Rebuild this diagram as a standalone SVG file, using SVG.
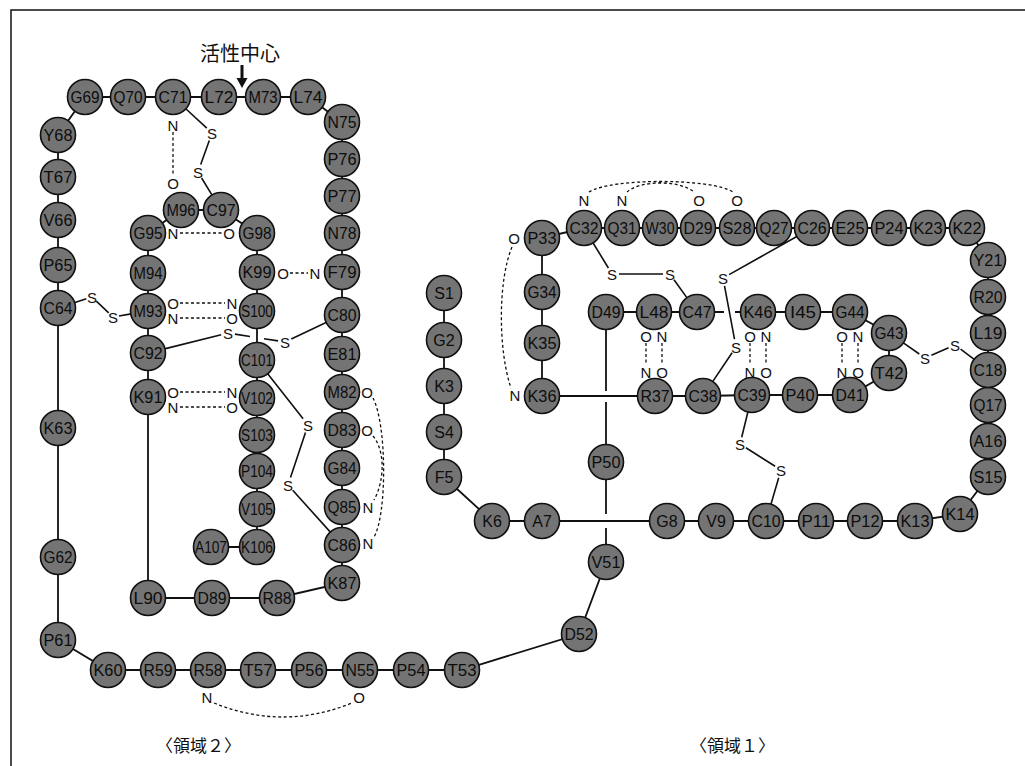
<svg xmlns="http://www.w3.org/2000/svg" width="1025" height="766" viewBox="0 0 1025 766">
<style>
.res circle{fill:#747474;stroke:#111;stroke-width:1.6}
.res text{font-family:"Liberation Sans",Arial,sans-serif;font-size:16px;text-anchor:middle;dominant-baseline:central;fill:#0d0d0d}
.bb{stroke:#111;stroke-width:1.8;fill:none}
.ss{stroke:#111;stroke-width:1.6;fill:none}
.hb{stroke:#111;stroke-width:1.3;stroke-dasharray:3 2.5;fill:none}
.lb{font-family:"Liberation Sans",Arial,sans-serif;font-size:15px;text-anchor:middle;dominant-baseline:central;fill:#111}
.cjk{font-family:"Noto Sans CJK JP","Liberation Sans",sans-serif;fill:#111}
</style>
<rect width="1025" height="766" fill="#fff"/>
<path d="M11,766 V10 H1025" stroke="#111" stroke-width="1.5" fill="none"/>
<g id="connectors">
<polyline class="bb" points="444,293 444,340 444,386 444,432 444,477 492,521 542,521 667,521 716,521 766,521 816,521 865,521 915,521 960,514 988,477 988,441 988,405 988,370 988,333 988,297 988,260 967,228 928,228 889,228 850,228 812,228 774,228 737,228 698,228 660,228 622,228 584,228 542,238 542,292 542,343 542,396 655,396 703,396 752,395 800,395 850,395 889,373 889,333 850,312 803,312 758,312 735,312"/>
<polyline class="bb" points="724,312 697,312 654,312 606,312 606,391"/>
<polyline class="bb" points="606,402 606,462 606,514"/>
<polyline class="bb" points="606,528 606,562 579,634 462,670 411,670 360,670 309,670 258,670 208,670 158,670 108,670 58,640 58,557 58,428 58,308 58,265 58,220 58,177 58,135 85,97 128,97 173,97 219,97 263,97 308,97 342,122 342,159 342,196 342,233 342,272 342,315 342,354 342,392 342,430 342,468 342,507 342,545 342,583 277,598 212,598 148,598 148,397 148,353 148,311 148,273 148,233 181,210 221,210 257,233 257,272 257,311 257,360 257,398 257,435 257,471 257,509 257,547 211,547"/>
<path class="ss" d="M185.5,108.5 L206.8,128.2 M209.3,140.5 L200.7,164.5 M201.6,178 L212.2,195.4"/>
<path class="ss" d="M74.2,302.8 L86.3,298.8 M96.3,301.1 L108.7,312.9 M118.9,316 L131.2,313.9"/>
<path class="ss" d="M164.5,348.9 L221.2,334.7 M234.9,334.1 L250,336.5 M264,338.7 L278.1,340.9 M291.3,339 L326.6,322.3"/>
<path class="ss" d="M267.5,373.4 L303.1,418.7 M305.5,432.6 L290.5,477.4 M292.7,490.2 L330.6,532.4"/>
<path class="ss" d="M592.8,242.5 L608.4,268 M619,274 L663,274 M674,279.7 L687.2,298.1"/>
<path class="ss" d="M797.2,236.3 L729.1,274.6 M724.5,285.9 L734.5,339.1 M732.1,352.8 L712.5,381.9"/>
<path class="ss" d="M748,411.5 L741.7,437.2 M745.9,447.8 L775.1,466.2 M778.7,477.7 L770.8,504.7"/>
<path class="ss" d="M903,342.7 L919.3,354 M931.4,355.2 L948.6,347.8 M960.6,349.2 L974.5,359.7"/>
<path class="hb" d="M173,132 V176 M180,233 H222 M290,273 H308 M180,303 H225 M180,318 H225 M180,392 H225 M180,407 H225"/>
<path class="hb" d="M373,398 C387,425 387,515 374,537 M373,436 C385,450 385,480 374,500"/>
<path class="hb" d="M214,703 Q283,731 352,703"/>
<path class="hb" d="M589,192 C610,178 712,178 733,192 M627,192 C640,180 680,180 694,192"/>
<path class="hb" d="M512,247 C498,280 498,350 511,388"/>
<path class="hb" d="M646,343 V365 M662,343 V365 M750,343 V365 M766,343 V365 M842,343 V365 M858,343 V365"/>
<line x1="242" y1="65" x2="242" y2="79" stroke="#111" stroke-width="3"/>
<polygon points="236.5,78 247.5,78 242,88" fill="#111"/>
</g>
<g id="bond-labels">
<text class="lb" x="212" y="133">S</text><text class="lb" x="198" y="172">S</text>
<text class="lb" x="173" y="125">N</text><text class="lb" x="173" y="183">O</text>
<text class="lb" x="173" y="233">N</text><text class="lb" x="229" y="233">O</text>
<text class="lb" x="283" y="273">O</text><text class="lb" x="315" y="273">N</text>
<text class="lb" x="92" y="297">S</text><text class="lb" x="113" y="317">S</text>
<text class="lb" x="173" y="303">O</text><text class="lb" x="232" y="303">N</text>
<text class="lb" x="173" y="318">N</text><text class="lb" x="232" y="318">O</text>
<text class="lb" x="228" y="333">S</text><text class="lb" x="285" y="342">S</text>
<text class="lb" x="173" y="392">O</text><text class="lb" x="232" y="392">N</text>
<text class="lb" x="173" y="407">N</text><text class="lb" x="232" y="407">O</text>
<text class="lb" x="308" y="425">S</text><text class="lb" x="288" y="485">S</text>
<text class="lb" x="367" y="392">O</text><text class="lb" x="367" y="430">O</text>
<text class="lb" x="368" y="507">N</text><text class="lb" x="368" y="543">N</text>
<text class="lb" x="207" y="697">N</text><text class="lb" x="359" y="697">O</text>
<text class="lb" x="584" y="200">N</text><text class="lb" x="622" y="200">N</text>
<text class="lb" x="699" y="200">O</text><text class="lb" x="737" y="200">O</text>
<text class="lb" x="514" y="238">O</text><text class="lb" x="515" y="395">N</text>
<text class="lb" x="612" y="274">S</text><text class="lb" x="670" y="274">S</text>
<text class="lb" x="723" y="278">S</text><text class="lb" x="736" y="347">S</text>
<text class="lb" x="646" y="336">O</text><text class="lb" x="662" y="336">N</text>
<text class="lb" x="646" y="372">N</text><text class="lb" x="662" y="372">O</text>
<text class="lb" x="750" y="336">O</text><text class="lb" x="766" y="336">N</text>
<text class="lb" x="750" y="372">N</text><text class="lb" x="766" y="372">O</text>
<text class="lb" x="842" y="336">O</text><text class="lb" x="858" y="336">N</text>
<text class="lb" x="842" y="372">N</text><text class="lb" x="858" y="372">O</text>
<text class="lb" x="740" y="444">S</text><text class="lb" x="781" y="470">S</text>
<text class="lb" x="925" y="358">S</text><text class="lb" x="955" y="345">S</text>
</g>
<g id="titles">
<text class="cjk" x="240" y="61" font-size="20" text-anchor="middle">活性中心</text>
<text class="cjk" x="156" y="752" font-size="17">〈領域２〉</text>
<text class="cjk" x="690" y="752" font-size="17">〈領域１〉</text>
</g>
<g id="residues">
<g id="S1" class="res"><circle cx="444" cy="293" r="17.5"/><text x="444" y="293">S1</text></g>
<g id="G2" class="res"><circle cx="444" cy="340" r="17.5"/><text x="444" y="340">G2</text></g>
<g id="K3" class="res"><circle cx="444" cy="386" r="17.5"/><text x="444" y="386">K3</text></g>
<g id="S4" class="res"><circle cx="444" cy="432" r="17.5"/><text x="444" y="432">S4</text></g>
<g id="F5" class="res"><circle cx="444" cy="477" r="17.5"/><text x="444" y="477">F5</text></g>
<g id="K6" class="res"><circle cx="492" cy="521" r="17.5"/><text x="492" y="521">K6</text></g>
<g id="A7" class="res"><circle cx="542" cy="521" r="17.5"/><text x="542" y="521">A7</text></g>
<g id="G8" class="res"><circle cx="667" cy="521" r="17.5"/><text x="667" y="521">G8</text></g>
<g id="V9" class="res"><circle cx="716" cy="521" r="17.5"/><text x="716" y="521">V9</text></g>
<g id="C10" class="res"><circle cx="766" cy="521" r="17.5"/><text x="766" y="521" textLength="29" lengthAdjust="spacingAndGlyphs">C10</text></g>
<g id="P11" class="res"><circle cx="816" cy="521" r="17.5"/><text x="816" y="521" textLength="29" lengthAdjust="spacingAndGlyphs">P11</text></g>
<g id="P12" class="res"><circle cx="865" cy="521" r="17.5"/><text x="865" y="521" textLength="29" lengthAdjust="spacingAndGlyphs">P12</text></g>
<g id="K13" class="res"><circle cx="915" cy="521" r="17.5"/><text x="915" y="521" textLength="29" lengthAdjust="spacingAndGlyphs">K13</text></g>
<g id="K14" class="res"><circle cx="960" cy="514" r="17.5"/><text x="960" y="514" textLength="29" lengthAdjust="spacingAndGlyphs">K14</text></g>
<g id="S15" class="res"><circle cx="988" cy="477" r="17.5"/><text x="988" y="477" textLength="29" lengthAdjust="spacingAndGlyphs">S15</text></g>
<g id="A16" class="res"><circle cx="988" cy="441" r="17.5"/><text x="988" y="441" textLength="29" lengthAdjust="spacingAndGlyphs">A16</text></g>
<g id="Q17" class="res"><circle cx="988" cy="405" r="17.5"/><text x="988" y="405" textLength="29" lengthAdjust="spacingAndGlyphs">Q17</text></g>
<g id="C18" class="res"><circle cx="988" cy="370" r="17.5"/><text x="988" y="370" textLength="29" lengthAdjust="spacingAndGlyphs">C18</text></g>
<g id="L19" class="res"><circle cx="988" cy="333" r="17.5"/><text x="988" y="333" textLength="29" lengthAdjust="spacingAndGlyphs">L19</text></g>
<g id="R20" class="res"><circle cx="988" cy="297" r="17.5"/><text x="988" y="297" textLength="29" lengthAdjust="spacingAndGlyphs">R20</text></g>
<g id="Y21" class="res"><circle cx="988" cy="260" r="17.5"/><text x="988" y="260" textLength="29" lengthAdjust="spacingAndGlyphs">Y21</text></g>
<g id="K22" class="res"><circle cx="967" cy="228" r="17.5"/><text x="967" y="228" textLength="29" lengthAdjust="spacingAndGlyphs">K22</text></g>
<g id="K23" class="res"><circle cx="928" cy="228" r="17.5"/><text x="928" y="228" textLength="29" lengthAdjust="spacingAndGlyphs">K23</text></g>
<g id="P24" class="res"><circle cx="889" cy="228" r="17.5"/><text x="889" y="228" textLength="29" lengthAdjust="spacingAndGlyphs">P24</text></g>
<g id="E25" class="res"><circle cx="850" cy="228" r="17.5"/><text x="850" y="228" textLength="29" lengthAdjust="spacingAndGlyphs">E25</text></g>
<g id="C26" class="res"><circle cx="812" cy="228" r="17.5"/><text x="812" y="228" textLength="29" lengthAdjust="spacingAndGlyphs">C26</text></g>
<g id="Q27" class="res"><circle cx="774" cy="228" r="17.5"/><text x="774" y="228" textLength="29" lengthAdjust="spacingAndGlyphs">Q27</text></g>
<g id="S28" class="res"><circle cx="737" cy="228" r="17.5"/><text x="737" y="228" textLength="29" lengthAdjust="spacingAndGlyphs">S28</text></g>
<g id="D29" class="res"><circle cx="698" cy="228" r="17.5"/><text x="698" y="228" textLength="29" lengthAdjust="spacingAndGlyphs">D29</text></g>
<g id="W30" class="res"><circle cx="660" cy="228" r="17.5"/><text x="660" y="228" textLength="29" lengthAdjust="spacingAndGlyphs">W30</text></g>
<g id="Q31" class="res"><circle cx="622" cy="228" r="17.5"/><text x="622" y="228" textLength="29" lengthAdjust="spacingAndGlyphs">Q31</text></g>
<g id="C32" class="res"><circle cx="584" cy="228" r="17.5"/><text x="584" y="228" textLength="29" lengthAdjust="spacingAndGlyphs">C32</text></g>
<g id="P33" class="res"><circle cx="542" cy="238" r="17.5"/><text x="542" y="238" textLength="29" lengthAdjust="spacingAndGlyphs">P33</text></g>
<g id="G34" class="res"><circle cx="542" cy="292" r="17.5"/><text x="542" y="292" textLength="29" lengthAdjust="spacingAndGlyphs">G34</text></g>
<g id="K35" class="res"><circle cx="542" cy="343" r="17.5"/><text x="542" y="343" textLength="29" lengthAdjust="spacingAndGlyphs">K35</text></g>
<g id="K36" class="res"><circle cx="542" cy="396" r="17.5"/><text x="542" y="396" textLength="29" lengthAdjust="spacingAndGlyphs">K36</text></g>
<g id="R37" class="res"><circle cx="655" cy="396" r="17.5"/><text x="655" y="396" textLength="29" lengthAdjust="spacingAndGlyphs">R37</text></g>
<g id="C38" class="res"><circle cx="703" cy="396" r="17.5"/><text x="703" y="396" textLength="29" lengthAdjust="spacingAndGlyphs">C38</text></g>
<g id="C39" class="res"><circle cx="752" cy="395" r="17.5"/><text x="752" y="395" textLength="29" lengthAdjust="spacingAndGlyphs">C39</text></g>
<g id="P40" class="res"><circle cx="800" cy="395" r="17.5"/><text x="800" y="395" textLength="29" lengthAdjust="spacingAndGlyphs">P40</text></g>
<g id="D41" class="res"><circle cx="850" cy="395" r="17.5"/><text x="850" y="395" textLength="29" lengthAdjust="spacingAndGlyphs">D41</text></g>
<g id="T42" class="res"><circle cx="889" cy="373" r="17.5"/><text x="889" y="373" textLength="29" lengthAdjust="spacingAndGlyphs">T42</text></g>
<g id="G43" class="res"><circle cx="889" cy="333" r="17.5"/><text x="889" y="333" textLength="29" lengthAdjust="spacingAndGlyphs">G43</text></g>
<g id="G44" class="res"><circle cx="850" cy="312" r="17.5"/><text x="850" y="312" textLength="29" lengthAdjust="spacingAndGlyphs">G44</text></g>
<g id="I45" class="res"><circle cx="803" cy="312" r="17.5"/><text x="803" y="312" textLength="26" lengthAdjust="spacingAndGlyphs">I45</text></g>
<g id="K46" class="res"><circle cx="758" cy="312" r="17.5"/><text x="758" y="312" textLength="29" lengthAdjust="spacingAndGlyphs">K46</text></g>
<g id="C47" class="res"><circle cx="697" cy="312" r="17.5"/><text x="697" y="312" textLength="29" lengthAdjust="spacingAndGlyphs">C47</text></g>
<g id="L48" class="res"><circle cx="654" cy="312" r="17.5"/><text x="654" y="312" textLength="29" lengthAdjust="spacingAndGlyphs">L48</text></g>
<g id="D49" class="res"><circle cx="606" cy="312" r="17.5"/><text x="606" y="312" textLength="29" lengthAdjust="spacingAndGlyphs">D49</text></g>
<g id="P50" class="res"><circle cx="606" cy="462" r="17.5"/><text x="606" y="462" textLength="29" lengthAdjust="spacingAndGlyphs">P50</text></g>
<g id="V51" class="res"><circle cx="606" cy="562" r="17.5"/><text x="606" y="562" textLength="29" lengthAdjust="spacingAndGlyphs">V51</text></g>
<g id="D52" class="res"><circle cx="579" cy="634" r="17.5"/><text x="579" y="634" textLength="29" lengthAdjust="spacingAndGlyphs">D52</text></g>
<g id="T53" class="res"><circle cx="462" cy="670" r="17.5"/><text x="462" y="670" textLength="29" lengthAdjust="spacingAndGlyphs">T53</text></g>
<g id="P54" class="res"><circle cx="411" cy="670" r="17.5"/><text x="411" y="670" textLength="29" lengthAdjust="spacingAndGlyphs">P54</text></g>
<g id="N55" class="res"><circle cx="360" cy="670" r="17.5"/><text x="360" y="670" textLength="29" lengthAdjust="spacingAndGlyphs">N55</text></g>
<g id="P56" class="res"><circle cx="309" cy="670" r="17.5"/><text x="309" y="670" textLength="29" lengthAdjust="spacingAndGlyphs">P56</text></g>
<g id="T57" class="res"><circle cx="258" cy="670" r="17.5"/><text x="258" y="670" textLength="29" lengthAdjust="spacingAndGlyphs">T57</text></g>
<g id="R58" class="res"><circle cx="208" cy="670" r="17.5"/><text x="208" y="670" textLength="29" lengthAdjust="spacingAndGlyphs">R58</text></g>
<g id="R59" class="res"><circle cx="158" cy="670" r="17.5"/><text x="158" y="670" textLength="29" lengthAdjust="spacingAndGlyphs">R59</text></g>
<g id="K60" class="res"><circle cx="108" cy="670" r="17.5"/><text x="108" y="670" textLength="29" lengthAdjust="spacingAndGlyphs">K60</text></g>
<g id="P61" class="res"><circle cx="58" cy="640" r="17.5"/><text x="58" y="640" textLength="29" lengthAdjust="spacingAndGlyphs">P61</text></g>
<g id="G62" class="res"><circle cx="58" cy="557" r="17.5"/><text x="58" y="557" textLength="29" lengthAdjust="spacingAndGlyphs">G62</text></g>
<g id="K63" class="res"><circle cx="58" cy="428" r="17.5"/><text x="58" y="428" textLength="29" lengthAdjust="spacingAndGlyphs">K63</text></g>
<g id="C64" class="res"><circle cx="58" cy="308" r="17.5"/><text x="58" y="308" textLength="29" lengthAdjust="spacingAndGlyphs">C64</text></g>
<g id="P65" class="res"><circle cx="58" cy="265" r="17.5"/><text x="58" y="265" textLength="29" lengthAdjust="spacingAndGlyphs">P65</text></g>
<g id="V66" class="res"><circle cx="58" cy="220" r="17.5"/><text x="58" y="220" textLength="29" lengthAdjust="spacingAndGlyphs">V66</text></g>
<g id="T67" class="res"><circle cx="58" cy="177" r="17.5"/><text x="58" y="177" textLength="29" lengthAdjust="spacingAndGlyphs">T67</text></g>
<g id="Y68" class="res"><circle cx="58" cy="135" r="17.5"/><text x="58" y="135" textLength="29" lengthAdjust="spacingAndGlyphs">Y68</text></g>
<g id="G69" class="res"><circle cx="85" cy="97" r="17.5"/><text x="85" y="97" textLength="29" lengthAdjust="spacingAndGlyphs">G69</text></g>
<g id="Q70" class="res"><circle cx="128" cy="97" r="17.5"/><text x="128" y="97" textLength="29" lengthAdjust="spacingAndGlyphs">Q70</text></g>
<g id="C71" class="res"><circle cx="173" cy="97" r="17.5"/><text x="173" y="97" textLength="29" lengthAdjust="spacingAndGlyphs">C71</text></g>
<g id="L72" class="res"><circle cx="219" cy="97" r="17.5"/><text x="219" y="97" textLength="29" lengthAdjust="spacingAndGlyphs">L72</text></g>
<g id="M73" class="res"><circle cx="263" cy="97" r="17.5"/><text x="263" y="97" textLength="29" lengthAdjust="spacingAndGlyphs">M73</text></g>
<g id="L74" class="res"><circle cx="308" cy="97" r="17.5"/><text x="308" y="97" textLength="29" lengthAdjust="spacingAndGlyphs">L74</text></g>
<g id="N75" class="res"><circle cx="342" cy="122" r="17.5"/><text x="342" y="122" textLength="29" lengthAdjust="spacingAndGlyphs">N75</text></g>
<g id="P76" class="res"><circle cx="342" cy="159" r="17.5"/><text x="342" y="159" textLength="29" lengthAdjust="spacingAndGlyphs">P76</text></g>
<g id="P77" class="res"><circle cx="342" cy="196" r="17.5"/><text x="342" y="196" textLength="29" lengthAdjust="spacingAndGlyphs">P77</text></g>
<g id="N78" class="res"><circle cx="342" cy="233" r="17.5"/><text x="342" y="233" textLength="29" lengthAdjust="spacingAndGlyphs">N78</text></g>
<g id="F79" class="res"><circle cx="342" cy="272" r="17.5"/><text x="342" y="272" textLength="29" lengthAdjust="spacingAndGlyphs">F79</text></g>
<g id="C80" class="res"><circle cx="342" cy="315" r="17.5"/><text x="342" y="315" textLength="29" lengthAdjust="spacingAndGlyphs">C80</text></g>
<g id="E81" class="res"><circle cx="342" cy="354" r="17.5"/><text x="342" y="354" textLength="29" lengthAdjust="spacingAndGlyphs">E81</text></g>
<g id="M82" class="res"><circle cx="342" cy="392" r="17.5"/><text x="342" y="392" textLength="29" lengthAdjust="spacingAndGlyphs">M82</text></g>
<g id="D83" class="res"><circle cx="342" cy="430" r="17.5"/><text x="342" y="430" textLength="29" lengthAdjust="spacingAndGlyphs">D83</text></g>
<g id="G84" class="res"><circle cx="342" cy="468" r="17.5"/><text x="342" y="468" textLength="29" lengthAdjust="spacingAndGlyphs">G84</text></g>
<g id="Q85" class="res"><circle cx="342" cy="507" r="17.5"/><text x="342" y="507" textLength="29" lengthAdjust="spacingAndGlyphs">Q85</text></g>
<g id="C86" class="res"><circle cx="342" cy="545" r="17.5"/><text x="342" y="545" textLength="29" lengthAdjust="spacingAndGlyphs">C86</text></g>
<g id="K87" class="res"><circle cx="342" cy="583" r="17.5"/><text x="342" y="583" textLength="29" lengthAdjust="spacingAndGlyphs">K87</text></g>
<g id="R88" class="res"><circle cx="277" cy="598" r="17.5"/><text x="277" y="598" textLength="29" lengthAdjust="spacingAndGlyphs">R88</text></g>
<g id="D89" class="res"><circle cx="212" cy="598" r="17.5"/><text x="212" y="598" textLength="29" lengthAdjust="spacingAndGlyphs">D89</text></g>
<g id="L90" class="res"><circle cx="148" cy="598" r="17.5"/><text x="148" y="598" textLength="29" lengthAdjust="spacingAndGlyphs">L90</text></g>
<g id="K91" class="res"><circle cx="148" cy="397" r="17.5"/><text x="148" y="397" textLength="29" lengthAdjust="spacingAndGlyphs">K91</text></g>
<g id="C92" class="res"><circle cx="148" cy="353" r="17.5"/><text x="148" y="353" textLength="29" lengthAdjust="spacingAndGlyphs">C92</text></g>
<g id="M93" class="res"><circle cx="148" cy="311" r="17.5"/><text x="148" y="311" textLength="29" lengthAdjust="spacingAndGlyphs">M93</text></g>
<g id="M94" class="res"><circle cx="148" cy="273" r="17.5"/><text x="148" y="273" textLength="29" lengthAdjust="spacingAndGlyphs">M94</text></g>
<g id="G95" class="res"><circle cx="148" cy="233" r="17.5"/><text x="148" y="233" textLength="29" lengthAdjust="spacingAndGlyphs">G95</text></g>
<g id="M96" class="res"><circle cx="181" cy="210" r="17.5"/><text x="181" y="210" textLength="29" lengthAdjust="spacingAndGlyphs">M96</text></g>
<g id="C97" class="res"><circle cx="221" cy="210" r="17.5"/><text x="221" y="210" textLength="29" lengthAdjust="spacingAndGlyphs">C97</text></g>
<g id="G98" class="res"><circle cx="257" cy="233" r="17.5"/><text x="257" y="233" textLength="29" lengthAdjust="spacingAndGlyphs">G98</text></g>
<g id="K99" class="res"><circle cx="257" cy="272" r="17.5"/><text x="257" y="272" textLength="29" lengthAdjust="spacingAndGlyphs">K99</text></g>
<g id="S100" class="res"><circle cx="257" cy="311" r="17.5"/><text x="257" y="311" textLength="32" lengthAdjust="spacingAndGlyphs">S100</text></g>
<g id="C101" class="res"><circle cx="257" cy="360" r="17.5"/><text x="257" y="360" textLength="32" lengthAdjust="spacingAndGlyphs">C101</text></g>
<g id="V102" class="res"><circle cx="257" cy="398" r="17.5"/><text x="257" y="398" textLength="32" lengthAdjust="spacingAndGlyphs">V102</text></g>
<g id="S103" class="res"><circle cx="257" cy="435" r="17.5"/><text x="257" y="435" textLength="32" lengthAdjust="spacingAndGlyphs">S103</text></g>
<g id="P104" class="res"><circle cx="257" cy="471" r="17.5"/><text x="257" y="471" textLength="32" lengthAdjust="spacingAndGlyphs">P104</text></g>
<g id="V105" class="res"><circle cx="257" cy="509" r="17.5"/><text x="257" y="509" textLength="32" lengthAdjust="spacingAndGlyphs">V105</text></g>
<g id="K106" class="res"><circle cx="257" cy="547" r="17.5"/><text x="257" y="547" textLength="32" lengthAdjust="spacingAndGlyphs">K106</text></g>
<g id="A107" class="res"><circle cx="211" cy="547" r="17.5"/><text x="211" y="547" textLength="32" lengthAdjust="spacingAndGlyphs">A107</text></g>
</g>
</svg>
